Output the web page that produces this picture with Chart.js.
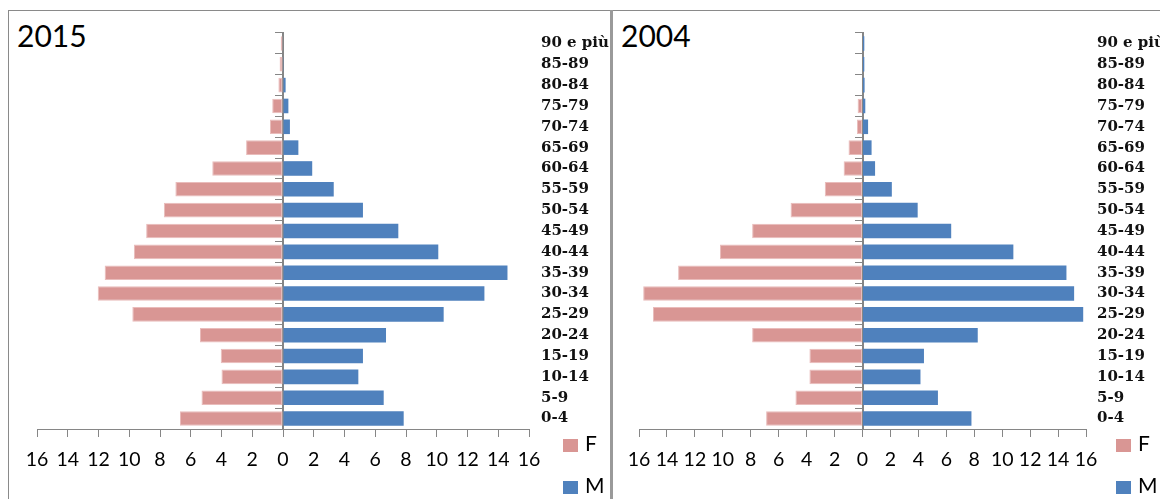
<!DOCTYPE html>
<html>
<head>
<meta charset="utf-8">
<script src="https://cdn.jsdelivr.net/npm/chart.js@4"></script>
<style>
  body { margin: 0; background: #fff; width: 1160px; height: 499px; overflow: hidden; position: relative; }
  .frame { position: absolute; box-sizing: border-box; }
  .title { position: absolute; font-family: Lato, sans-serif; font-size: 30px; color: #000; line-height: 1; }
  .leg { position: absolute; font-family: Lato, sans-serif; font-size: 21px; color: #000; line-height: 1; }
  .leg span { display: inline-block; width: 15px; height: 13px; margin-right: 7px; vertical-align: -1px; }
  canvas { position: absolute; }
</style>
</head>
<body>
<div class="frame" style="left:8px;top:10px;width:603px;height:489px;border-top:1px solid #8a8a8a;border-left:1px solid #8a8a8a;"></div>
<div class="frame" style="left:610px;top:10px;width:3px;height:489px;background:#9a9a9a;"></div>
<div class="frame" style="left:613px;top:10px;width:547px;height:489px;border-top:1px solid #8a8a8a;"></div>

<div class="title" style="left:17px;top:20px;">2015</div>
<div class="title" style="left:621px;top:20px;">2004</div>

<canvas id="chart2015" style="left:9px;top:11px;width:600px;height:488px;"></canvas>
<canvas id="chart2004" style="left:614px;top:11px;width:546px;height:488px;"></canvas>

<div id="legend2015"></div>
<div id="legend2004"></div>

<script>
// age groups, youngest first (drawn bottom to top)
const ageGroups = ["0-4", "5-9", "10-14", "15-19", "20-24", "25-29", "30-34", "35-39", "40-44",
  "45-49", "50-54", "55-59", "60-64", "65-69", "70-74", "75-79", "80-84", "85-89", "90 e più"];

// percent of population
const females2015 = [6.7, 5.3, 4.0, 4.05, 5.4, 9.8, 12.05, 11.6, 9.7, 8.9, 7.75, 7.0, 4.6, 2.4, 0.85, 0.7, 0.3, 0.22, 0.15];
const males2015 = [7.85, 6.55, 4.9, 5.2, 6.7, 10.45, 13.1, 14.6, 10.1, 7.5, 5.2, 3.3, 1.9, 1.0, 0.45, 0.35, 0.17, 0.05, 0.03];
const females2004 = [6.9, 4.8, 3.8, 3.8, 7.9, 15.0, 15.7, 13.2, 10.2, 7.9, 5.15, 2.7, 1.35, 1.0, 0.4, 0.35, 0.05, 0.04, 0.03];
const males2004 = [7.8, 5.4, 4.15, 4.4, 8.25, 15.8, 15.15, 14.6, 10.8, 6.35, 3.95, 2.1, 0.9, 0.65, 0.4, 0.2, 0.15, 0.13, 0.13];

const axisMin = -16;
const axisMax = 16;
const axisStep = 2;

const pink = "#d99694";
const pinkEdge = "#e9bcbb";
const blue = "#4f81bd";
const grey = "#868686";

function makePyramid(canvasId, females, males, padLeft, labelWidth, labelPad) {
  const ctx = document.getElementById(canvasId);
  return new Chart(ctx, {
    type: "bar",
    data: {
      labels: ageGroups,
      datasets: [
        {
          label: "F",
          data: females.map((v) => -v),
          backgroundColor: pink,
          borderColor: pinkEdge,
          borderWidth: 1,
          borderSkipped: false,
        },
        {
          label: "M",
          data: males,
          backgroundColor: blue,
          borderWidth: 0,
        },
      ],
    },
    options: {
      indexAxis: "y",
      responsive: false,
      animation: false,
      maintainAspectRatio: false,
      grouped: false,
      barPercentage: 0.7,
      categoryPercentage: 1,
      layout: { padding: { left: padLeft, top: 22, right: 0, bottom: 0 } },
      plugins: { legend: { display: false }, tooltip: { enabled: false } },
      scales: {
        x: {
          type: "linear",
          min: axisMin,
          max: axisMax,
          grid: { drawOnChartArea: false, drawTicks: true, tickLength: 8, color: grey },
          border: { display: true, color: grey, width: 1 },
          ticks: {
            stepSize: axisStep,
            color: "#000",
            padding: 11,
            maxRotation: 0,
            autoSkip: false,
            font: { family: "Lato, sans-serif", size: 19.5 },
            callback: (v) => Math.abs(v),
          },
          afterFit: (scale) => { scale.height = 70; },
        },
        y: {
          position: "right",
          reverse: true,
          grid: { display: false, drawTicks: false },
          border: { display: false },
          ticks: {
            color: "#111",
            padding: labelPad,
            autoSkip: false,
            font: { family: "'DejaVu Serif', serif", size: 15, weight: "bold" },
          },
          afterFit: (scale) => { scale.width = labelWidth; },
        },
        // the vertical axis line at zero, with its small ticks between age groups
        y0: {
          type: "category",
          position: { x: 0 },
          reverse: true,
          offset: true,
          grid: { offset: true, drawOnChartArea: false, drawTicks: true, tickLength: 7, color: grey },
          border: { display: true, color: grey, width: 2 },
          ticks: { display: false, autoSkip: false },
        },
      },
    },
  });
}

function makeLegend(id, chart, left) {
  const box = document.getElementById(id);
  const tops = [432, 474];
  chart.data.datasets.forEach((ds, i) => {
    const item = document.createElement("div");
    item.className = "leg";
    item.style.left = left + "px";
    item.style.top = tops[i] + "px";
    item.innerHTML = '<span style="background:' + ds.backgroundColor + '"></span>' + ds.label;
    box.appendChild(item);
  });
}

const chart2015 = makePyramid("chart2015", females2015, males2015, 28, 80, 12);
const chart2004 = makePyramid("chart2004", females2004, males2004, 25, 74, 11);
makeLegend("legend2015", chart2015, 563);
makeLegend("legend2004", chart2004, 1116);
</script>
</body>
</html>
